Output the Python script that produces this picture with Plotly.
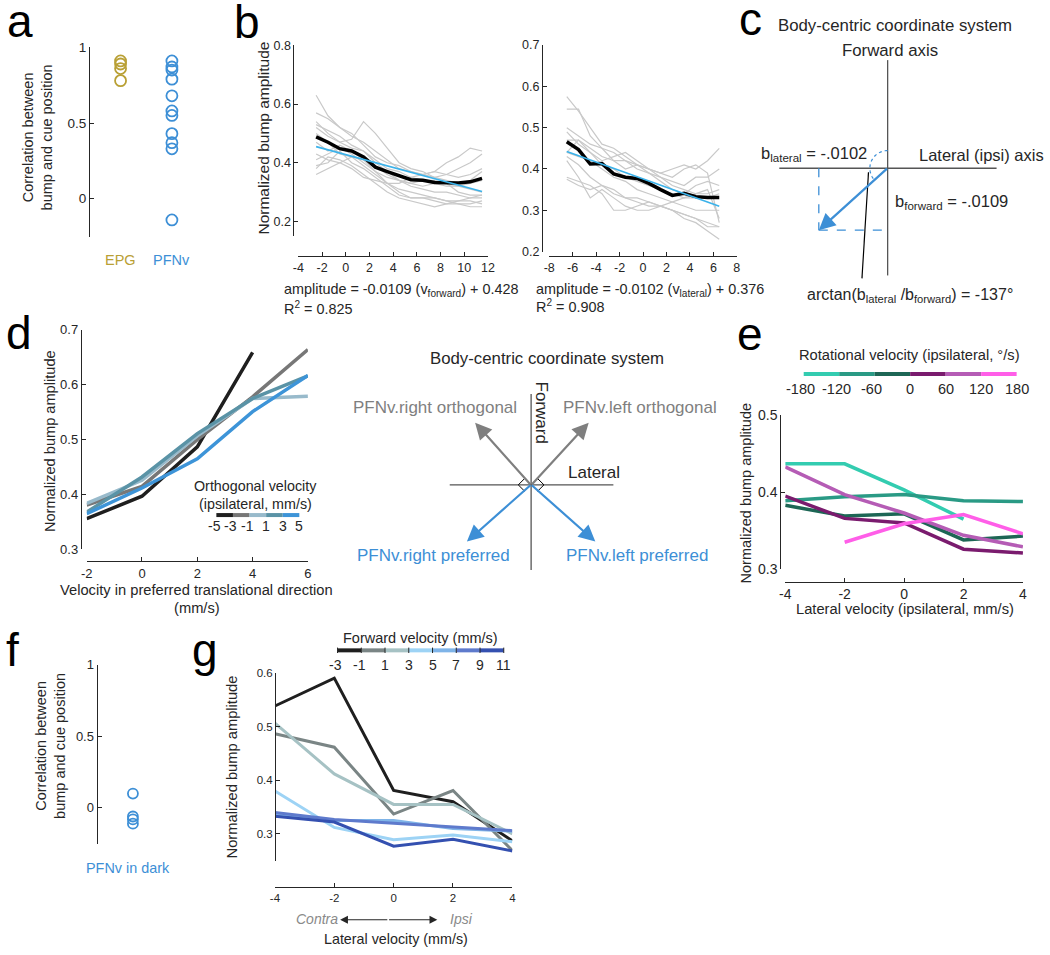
import math
import plotly.graph_objects as go

W, H = 1050, 955
FONT = "Liberation Sans, Arial, sans-serif"
INK = "#262626"
BLUE = "#3D8FD6"
GOLD = "#B9A035"
GRAY = "#7F7F7F"

# ---- panel a / f : correlation between bump and cue position
epg_corr = [0.91, 0.89, 0.86, 0.78]
pfnv_corr = [0.91, 0.87, 0.85, 0.79, 0.68, 0.58, 0.55, 0.43, 0.37, 0.33, -0.14]
pfnv_dark_corr = [0.10, -0.06, -0.08, -0.11]

# ---- panel b : amplitude vs forward / lateral velocity
b_fwd_x = [-2.5, -1.5, -0.5, 0.5, 1.5, 2.5, 3.5, 4.5, 5.5, 6.5, 7.5, 8.5, 9.5, 10.5, 11.5]
b_fwd_mean = [0.488, 0.47, 0.448, 0.44, 0.42, 0.385, 0.37, 0.357, 0.342, 0.34, 0.333, 0.332, 0.331, 0.335, 0.347]
b_fwd_fit_x = [-2.5, 11.5]
b_fwd_fit_y = [0.455, 0.302]
b_fwd_flies = [
    [0.63, 0.56, 0.52, 0.50, 0.46, 0.42, 0.40, 0.39, 0.37, 0.36, 0.35, 0.36, 0.38, 0.40, 0.43],
    [0.57, 0.55, 0.52, 0.49, 0.47, 0.44, 0.41, 0.38, 0.37, 0.36, 0.37, 0.40, 0.42, 0.45, 0.44],
    [0.54, 0.50, 0.47, 0.48, 0.54, 0.50, 0.45, 0.40, 0.38, 0.37, 0.35, 0.34, 0.33, 0.34, 0.37],
    [0.53, 0.51, 0.49, 0.46, 0.44, 0.41, 0.38, 0.37, 0.35, 0.34, 0.33, 0.33, 0.32, 0.33, 0.34],
    [0.52, 0.49, 0.47, 0.45, 0.44, 0.40, 0.37, 0.34, 0.33, 0.32, 0.33, 0.32, 0.32, 0.31, 0.30],
    [0.50, 0.47, 0.43, 0.42, 0.41, 0.39, 0.36, 0.34, 0.32, 0.31, 0.30, 0.30, 0.29, 0.28, 0.28],
    [0.47, 0.44, 0.46, 0.44, 0.41, 0.37, 0.33, 0.31, 0.30, 0.29, 0.28, 0.27, 0.27, 0.27, 0.26],
    [0.43, 0.41, 0.40, 0.42, 0.39, 0.36, 0.33, 0.30, 0.28, 0.28, 0.28, 0.27, 0.26, 0.26, 0.27],
    [0.41, 0.43, 0.45, 0.43, 0.40, 0.37, 0.35, 0.34, 0.33, 0.34, 0.34, 0.33, 0.30, 0.29, 0.29],
    [0.39, 0.40, 0.44, 0.40, 0.38, 0.35, 0.32, 0.29, 0.28, 0.28, 0.27, 0.26, 0.26, 0.25, 0.25],
    [0.38, 0.42, 0.41, 0.39, 0.36, 0.33, 0.30, 0.28, 0.27, 0.26, 0.25, 0.26, 0.27, 0.28, 0.29],
    [0.36, 0.38, 0.40, 0.38, 0.35, 0.34, 0.33, 0.33, 0.35, 0.36, 0.37, 0.36, 0.35, 0.36, 0.38],
]

b_lat_x = [-6.5, -5.5, -4.5, -3.5, -2.5, -1.5, -0.5, 0.5, 1.5, 2.5, 3.5, 4.5, 5.5, 6.5]
b_lat_mean = [0.466, 0.447, 0.412, 0.413, 0.388, 0.38, 0.377, 0.365, 0.35, 0.336, 0.341, 0.333, 0.331, 0.331]
b_lat_fit_x = [-6.5, 6.5]
b_lat_fit_y = [0.442, 0.310]
b_lat_flies = [
    [0.575, 0.54, 0.50, 0.46, 0.45, 0.43, 0.41, 0.40, 0.39, 0.40, 0.41, 0.40, 0.42, 0.45],
    [0.545, 0.545, 0.48, 0.45, 0.44, 0.42, 0.40, 0.39, 0.38, 0.37, 0.36, 0.38, 0.38, 0.40],
    [0.50, 0.48, 0.46, 0.45, 0.42, 0.40, 0.41, 0.39, 0.37, 0.35, 0.34, 0.36, 0.37, 0.36],
    [0.49, 0.46, 0.44, 0.42, 0.43, 0.44, 0.42, 0.40, 0.38, 0.36, 0.35, 0.34, 0.34, 0.35],
    [0.47, 0.47, 0.44, 0.41, 0.40, 0.38, 0.37, 0.36, 0.35, 0.34, 0.33, 0.33, 0.33, 0.34],
    [0.44, 0.43, 0.42, 0.40, 0.38, 0.37, 0.35, 0.34, 0.33, 0.32, 0.31, 0.30, 0.30, 0.30],
    [0.43, 0.41, 0.38, 0.36, 0.34, 0.33, 0.33, 0.32, 0.31, 0.30, 0.29, 0.28, 0.27, 0.26],
    [0.42, 0.38, 0.33, 0.35, 0.33, 0.31, 0.30, 0.30, 0.31, 0.30, 0.28, 0.27, 0.25, 0.23],
    [0.38, 0.37, 0.36, 0.34, 0.30, 0.30, 0.31, 0.32, 0.31, 0.30, 0.29, 0.28, 0.26, 0.26],
    [0.375, 0.36, 0.35, 0.36, 0.35, 0.33, 0.32, 0.31, 0.31, 0.32, 0.33, 0.34, 0.35, 0.28],
    [0.44, 0.47, 0.45, 0.43, 0.42, 0.42, 0.41, 0.40, 0.39, 0.38, 0.40, 0.41, 0.39, 0.27],
]

# ---- panel d : amplitude vs preferred-direction velocity, by orthogonal velocity
d_x = [-2, 0, 2, 4, 6]
d_labels = ["-5", "-3", "-1", "1", "3", "5"]
d_colors = ["#1F1F1F", "#777777", "#98BACB", "#5A93A6", "#3D94D8"]
d_amp = [
    [0.356, 0.397, 0.487, 0.659, None],
    [0.381, 0.415, 0.500, 0.578, 0.664],
    [0.384, 0.426, 0.507, 0.575, 0.579],
    [0.368, 0.432, 0.511, 0.575, 0.616],
    [0.365, 0.412, 0.465, 0.551, 0.617],
]

# ---- panel e : amplitude vs lateral velocity, by rotational velocity
e_x = [-4, -2, 0, 2, 4]
e_labels = ["-180", "-120", "-60", "0", "60", "120", "180"]
e_colors = ["#33CCB0", "#2A9A85", "#1D6655", "#7A1B6E", "#B55CB5", "#FF5EE8"]
e_amp = [
    [0.437, 0.437, 0.403, 0.365, None],
    [0.389, 0.394, 0.397, 0.389, 0.388],
    [0.383, 0.369, 0.372, 0.338, 0.343],
    [0.395, 0.366, 0.360, 0.326, 0.321],
    [0.433, 0.397, 0.373, 0.344, 0.329],
    [None, 0.335, 0.359, 0.371, 0.346],
]

# ---- panel g : amplitude vs lateral velocity, by forward velocity
g_x = [-4, -2, 0, 2, 4]
g_labels = ["-3", "-1", "1", "3", "5", "7", "9", "11"]
g_colors = ["#1F1F1F", "#7A8585", "#A6C2C4", "#9DD3F5", "#7FB4E8", "#5E7ACC", "#3450B0"]
g_amp = [
    [0.539, 0.591, 0.381, 0.360, 0.287],
    [0.487, 0.462, 0.337, 0.381, 0.269],
    [0.507, 0.412, 0.355, 0.355, 0.300],
    [0.380, 0.312, 0.289, 0.298, 0.285],
    [0.335, 0.325, 0.325, 0.310, 0.305],
    [0.340, 0.327, 0.320, 0.313, 0.306],
    [0.333, 0.322, 0.277, 0.290, 0.268],
]


def fx(p):
    return p / W


def fy(p):
    return 1 - p / H


fig = go.Figure()
annotations = []
shapes = []


def text(x, y, s, size=13, color=INK, angle=0, xanchor="center", italic=False):
    annotations.append(dict(
        x=fx(x), y=fy(y), xref="paper", yref="paper", text=s, showarrow=False,
        xanchor=xanchor, yanchor="middle", textangle=angle,
        font=dict(family=FONT, size=size, color=color,
                  style="italic" if italic else "normal"),
    ))


def line(x0, y0, x1, y1, color=INK, width=1.2, dash="solid"):
    shapes.append(dict(type="line", xref="paper", yref="paper",
                       x0=fx(x0), y0=fy(y0), x1=fx(x1), y1=fy(y1),
                       line=dict(color=color, width=width, dash=dash)))


def arrow(x0, y0, x1, y1, color, width=2, size=1.3):
    annotations.append(dict(
        x=fx(x1), y=fy(y1), xref="paper", yref="paper", text="",
        ax=x0 - x1, ay=y0 - y1, showarrow=True, arrowhead=2,
        arrowsize=size, arrowwidth=width, arrowcolor=color,
    ))


def make_axes(n, xdom, ydom, xr, yr, ylinex, xliney, xtick, ytick, ytext=None,
              showx=True, fs=12):
    s = "" if n == 1 else str(n)
    common = dict(showgrid=False, zeroline=False, linecolor=INK, linewidth=1,
                  ticks="inside", ticklen=4, tickwidth=1, tickcolor=INK,
                  tickfont=dict(family=FONT, size=fs, color=INK))
    fig.layout["xaxis" + s] = dict(
        common, domain=[fx(xdom[0]), fx(xdom[1])], range=xr, anchor="free",
        position=max(0, fy(xliney)), showline=showx, showticklabels=showx,
        ticks="inside" if showx else "", tickvals=xtick,
        ticktext=[str(v) for v in xtick])
    fig.layout["yaxis" + s] = dict(
        common, domain=[fy(ydom[1]), fy(ydom[0])], range=yr, anchor="free",
        position=fx(ylinex), showline=True, tickvals=ytick,
        ticktext=ytext if ytext else [str(v) for v in ytick])
    return "x" + s, "y" + s


# ---------------- panel a
xa, ya = make_axes(1, (90, 194), (40, 232.5), [0.5, 2.5], [-0.25, 1], 84, 240,
                   [], [0, 0.5, 1], ["0", "0.5", "1"], showx=False, fs=13.5)
fig.add_trace(go.Scatter(x=[1] * len(epg_corr), y=epg_corr, mode="markers", xaxis=xa, yaxis=ya,
                         marker=dict(symbol="circle-open", size=11, color=GOLD, line=dict(width=1.8))))
fig.add_trace(go.Scatter(x=[2] * len(pfnv_corr), y=pfnv_corr, mode="markers", xaxis=xa, yaxis=ya,
                         marker=dict(symbol="circle-open", size=11, color=BLUE, line=dict(width=1.8))))
text(116, 256, "EPG", 14.5, GOLD)
text(168, 256, "PFNv", 14.5, BLUE)
text(32, 132, "Correlation between<br>bump and cue position", 14.5, INK, angle=-90)

# ---------------- panel b (left)
xb, yb = make_axes(2, (296, 488), (38, 232), [-4, 12], [0.15, 0.8], 291, 252,
                   [-4, -2, 0, 2, 4, 6, 8, 10, 12], [0.2, 0.4, 0.6, 0.8], fs=12.5)
for fly in b_fwd_flies:
    fig.add_trace(go.Scatter(x=b_fwd_x, y=fly, mode="lines", xaxis=xb, yaxis=yb,
                             line=dict(color="#C9C9C9", width=1.2)))
fig.add_trace(go.Scatter(x=b_fwd_x, y=b_fwd_mean, mode="lines", xaxis=xb, yaxis=yb,
                         line=dict(color="#000000", width=3.5)))
fig.add_trace(go.Scatter(x=b_fwd_fit_x, y=b_fwd_fit_y, mode="lines", xaxis=xb, yaxis=yb,
                         line=dict(color="#3BB2EA", width=1.6)))
text(261, 132, "Normalized bump amplitude", 15.5, INK, angle=-90)
text(279, 287, "amplitude = -0.0109 (v<sub>forward</sub>) + 0.428", 14.4, INK, xanchor="left")
text(279, 305, "R<sup>2</sup> = 0.825", 14.4, INK, xanchor="left")

# ---------------- panel b (right)
xc, yc = make_axes(3, (550, 740), (37.7, 247.7), [-8, 8], [0.2, 0.7], 542.7, 252.5,
                   [-8, -6, -4, -2, 0, 2, 4, 6, 8], [0.2, 0.3, 0.4, 0.5, 0.6, 0.7], fs=12.5)
for fly in b_lat_flies:
    fig.add_trace(go.Scatter(x=b_lat_x, y=fly, mode="lines", xaxis=xc, yaxis=yc,
                             line=dict(color="#C9C9C9", width=1.2)))
fig.add_trace(go.Scatter(x=b_lat_x, y=b_lat_mean, mode="lines", xaxis=xc, yaxis=yc,
                         line=dict(color="#000000", width=3.5)))
fig.add_trace(go.Scatter(x=b_lat_fit_x, y=b_lat_fit_y, mode="lines", xaxis=xc, yaxis=yc,
                         line=dict(color="#3BB2EA", width=1.6)))
text(535, 287, "amplitude = -0.0102 (v<sub>lateral</sub>) + 0.376", 14.4, INK, xanchor="left")
text(535, 303, "R<sup>2</sup> = 0.908", 14.4, INK, xanchor="left")

# ---------------- panel c (diagram)
ox, oy = 892.7, 163
text(900, 18, "Body-centric coordinate system", 16.8)
text(895, 43, "Forward axis", 16.8)
line(ox, 53, ox, 272, "#555555", 1.3)
line(783, oy, 1003, oy, "#555555", 1.3)
line(823, oy, 823, 226, BLUE, 1.3, "dash")
line(823, 226, ox, 226, BLUE, 1.3, "dash")
arc = []
for k in range(31):
    t = math.radians(90 + k * (222 - 90) / 30)
    arc.append((ox + 18 * math.cos(t), oy - 18 * math.sin(t)))
shapes.append(dict(type="path", xref="paper", yref="paper",
                   path="M " + " L ".join(f"{fx(px):.5f},{fy(py):.5f}" for px, py in arc),
                   line=dict(color=BLUE, width=1.2, dash="dot")))
arrow(ox, oy, 823, 226, BLUE, 2.2, 1.5)
line(873.3, 167, 866.7, 275, "#000000", 1.2)
text(922, 150, "Lateral (ipsi) axis", 16.5, xanchor="left")
text(762, 148, "b<sub>lateral</sub> = -.0102", 16.5, xanchor="left")
text(898, 197, "b<sub>forward</sub> = -.0109", 16.5, xanchor="left")
text(915, 292, "arctan(b<sub>lateral</sub> /b<sub>forward</sub>) = -137°", 16)

# ---------------- panel d (left plot)
xd, yd = make_axes(4, (81.7, 305.7), (327.3, 550.7), [-2, 6], [0.3, 0.7], 75.7, 562.7,
                   [-2, 0, 2, 4, 6], [0.3, 0.4, 0.5, 0.6, 0.7], fs=13)
for amp, col in zip(d_amp, d_colors):
    fig.add_trace(go.Scatter(x=d_x, y=amp, mode="lines", xaxis=xd, yaxis=yd,
                             line=dict(color=col, width=3.5)))
text(44, 440, "Normalized bump amplitude", 14.6, INK, angle=-90)
text(193, 591.5, "Velocity in preferred translational direction", 14.7)
text(193, 610, "(mm/s)", 14.7)
text(253, 486, "Orthogonal velocity", 14.3)
text(253, 504, "(ipsilateral, mm/s)", 14.3)
seg = (297 - 213) / len(d_colors)
for i, col in enumerate(d_colors):
    line(213 + i * seg, 515.7, 213 + (i + 1) * seg, 515.7, col, 4)
for i, lab in enumerate(d_labels):
    text(213 + i * seg - (2 if lab.startswith("-") else 0), 526.5, lab, 14)

# ---------------- panel d (diagram)
cx, cy = 531.7, 485
text(548, 356, "Body-centric coordinate system", 16.8)
line(cx, 392.7, cx, 571.7, "#555555", 1.3)
line(449.3, cy, 615, cy, "#555555", 1.3)
arrow(cx, cy, 475, 421.7, GRAY, 2.2, 1.5)
arrow(cx, cy, 590, 421.7, GRAY, 2.2, 1.5)
arrow(cx, cy, 466.7, 542.7, BLUE, 2.2, 1.5)
arrow(cx, cy, 596.7, 542.7, BLUE, 2.2, 1.5)
for sgn in (-1, 1):
    d = 6.5
    path = (f"M {fx(cx + sgn * d):.5f},{fy(cy - d):.5f} L {fx(cx + sgn * 2 * d):.5f},{fy(cy):.5f} "
            f"L {fx(cx + sgn * d):.5f},{fy(cy + d):.5f}")
    shapes.append(dict(type="path", xref="paper", yref="paper", path=path,
                       line=dict(color="#000000", width=1)))
text(542, 411.7, "Forward", 17, INK, angle=90)
text(595, 472.7, "Lateral", 17)
text(434, 406.7, "PFNv.right orthogonal", 17, GRAY)
text(642, 406.7, "PFNv.left orthogonal", 17, GRAY)
text(433, 556.7, "PFNv.right preferred", 17, BLUE)
text(639, 556.7, "PFNv.left preferred", 17, BLUE)

# ---------------- panel e
xe, ye = make_axes(5, (789, 1029.7), (414.3, 570.7), [-4, 4], [0.3, 0.5], 784, 583.3,
                   [-4, -2, 0, 2, 4], [0.3, 0.4, 0.5], fs=14)
for amp, col in zip(e_amp, e_colors):
    fig.add_trace(go.Scatter(x=e_x, y=amp, mode="lines", xaxis=xe, yaxis=ye,
                             line=dict(color=col, width=3.5)))
text(749, 493, "Normalized bump amplitude", 14.5, INK, angle=-90)
text(910, 611, "Lateral velocity (ipsilateral, mm/s)", 14.7)
text(915, 353.3, "Rotational velocity (ipsilateral, °/s)", 14.7)
seg = (1023.3 - 807.7) / len(e_colors)
for i, col in enumerate(e_colors):
    line(807.7 + i * seg, 372.3, 807.7 + (i + 1) * seg, 372.3, col, 4)
for i, lab in enumerate(e_labels):
    text(807.7 + i * seg - (3 if lab.startswith("-") else 0), 387, lab, 14.5)

# ---------------- panel f
xf, yf = make_axes(6, (100, 157), (667.7, 850), [0.5, 1.5], [-0.25, 1], 91.7, 860,
                   [], [0, 0.5, 1], ["0", "0.5", "1"], showx=False, fs=13)
fig.add_trace(go.Scatter(x=[1] * len(pfnv_dark_corr), y=pfnv_dark_corr, mode="markers",
                         xaxis=xf, yaxis=yf,
                         marker=dict(symbol="circle-open", size=10, color=BLUE, line=dict(width=1.8))))
text(123.3, 875, "PFNv in dark", 14.4, BLUE)
text(45, 750, "Correlation between<br>bump and cue position", 14.5, INK, angle=-90)

# ---------------- panel g
xg, yg = make_axes(7, (272.3, 512.7), (676.7, 867.1), [-4, 4], [0.25, 0.6], 272.3, 894,
                   [-4, -2, 0, 2, 4], [0.3, 0.4, 0.5, 0.6], fs=11.5)
for amp, col in zip(g_amp, g_colors):
    fig.add_trace(go.Scatter(x=g_x, y=amp, mode="lines", xaxis=xg, yaxis=yg,
                             line=dict(color=col, width=3)))
text(228.5, 771.7, "Normalized bump amplitude", 14.7, INK, angle=-90)
text(420, 640.7, "Forward velocity (mm/s)", 14.5)
seg = (504 - 335.7) / len(g_colors)
for i, col in enumerate(g_colors):
    line(335.7 + i * seg, 653.3, 335.7 + (i + 1) * seg, 653.3, col, 4)
for i, lab in enumerate(g_labels):
    line(335.7 + i * seg, 650.5, 335.7 + i * seg, 656, INK, 1)
    text(335.7 + i * seg - (2 if lab.startswith("-") else 0), 668.3, lab, 14)
text(315, 926.7, "Contra", 14, "#8A8A8A", italic=True)
text(461.7, 926.7, "Ipsi", 14, "#8A8A8A", italic=True)
arrow(387, 927.3, 338.3, 927.3, INK, 1.2, 1.3)
arrow(387, 927.3, 436.7, 927.3, INK, 1.2, 1.3)
text(395, 946.5, "Lateral velocity (mm/s)", 14.3)

# ---------------- panel letters
for lab, x, y in [("a", 14, 13), ("b", 244, 14), ("c", 754, 11), ("d", 13, 331),
                  ("e", 753, 332), ("f", 7, 653), ("g", 202, 653)]:
    text(x, y, lab, 46, "#000000")

fig.update_layout(
    width=W, height=H, margin=dict(l=0, r=0, t=0, b=0),
    paper_bgcolor="white", plot_bgcolor="white", showlegend=False,
    hovermode=False, annotations=annotations, shapes=shapes,
    font=dict(family=FONT, color=INK),
)

fig.write_html("out.html", config={"displayModeBar": False},
               post_script="document.body.style.margin='0px';")
